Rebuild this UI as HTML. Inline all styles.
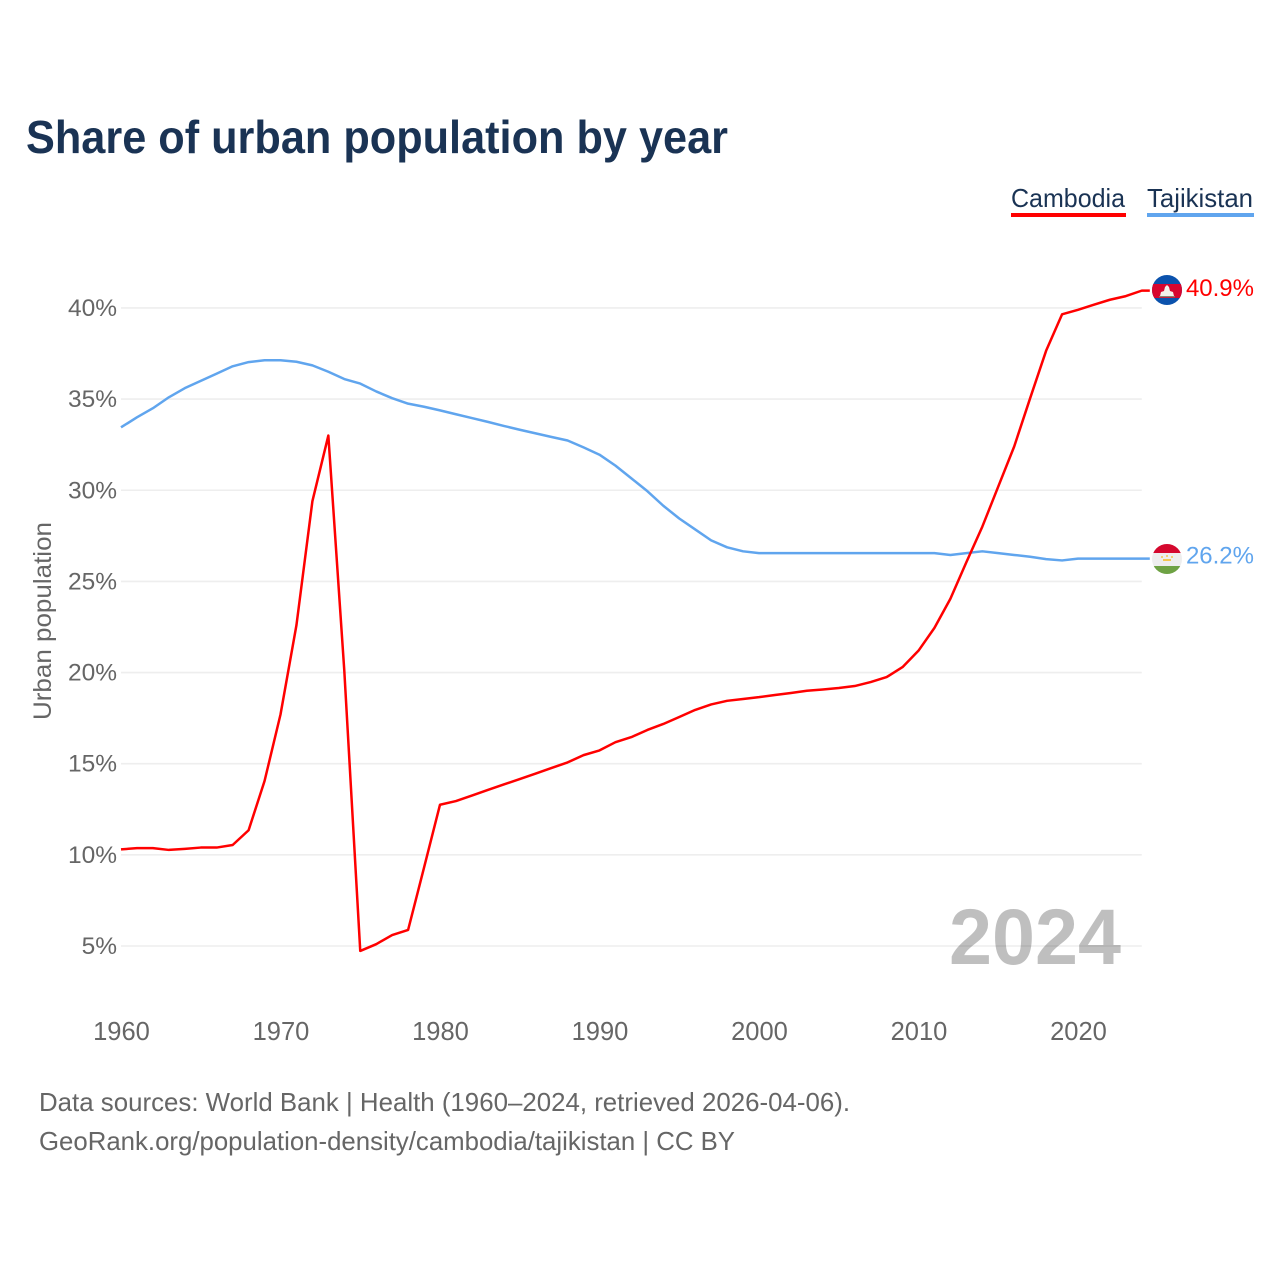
<!DOCTYPE html>
<html lang="en">
<head>
<meta charset="utf-8">
<title>Share of urban population by year</title>
<style>
html,body{margin:0;padding:0;background:#fff;width:1280px;height:1280px;overflow:hidden}
svg{display:block}
text{font-family:"Liberation Sans",sans-serif}
</style>
</head>
<body>
<svg id="chart" xmlns="http://www.w3.org/2000/svg" width="1280" height="1280" viewBox="0 0 1280 1280">
  <defs>
    <clipPath id="flag-clip-a"><circle cx="1167" cy="290" r="15"/></clipPath>
    <clipPath id="flag-clip-b"><circle cx="1167" cy="559" r="15"/></clipPath>
  </defs>
  <text x="26" y="153" font-size="46" font-weight="700" fill="#1a3354" textLength="702" lengthAdjust="spacingAndGlyphs">Share of urban population by year</text>

  <g>
    <g>
      <text x="1011" y="207" font-size="26" fill="#1a3354" textLength="114" lengthAdjust="spacingAndGlyphs">Cambodia</text>
      <rect x="1011" y="213" width="115" height="4" fill="#ff0000"/>
    </g>
    <g>
      <text x="1147" y="207" font-size="26" fill="#1a3354" textLength="106" lengthAdjust="spacingAndGlyphs">Tajikistan</text>
      <rect x="1147" y="213" width="107" height="4" fill="#60a5ee"/>
    </g>
  </g>

  <g id="grid"></g>
  <g id="y-axis"></g>
  <g id="x-axis"></g>
  <text transform="translate(51,621) rotate(-90)" text-anchor="middle" font-size="25" fill="#666666" textLength="198" lengthAdjust="spacingAndGlyphs">Urban population</text>

  <text x="1121" y="964" text-anchor="end" font-size="79" font-weight="700" fill="#000000" fill-opacity="0.25" textLength="172" lengthAdjust="spacingAndGlyphs">2024</text>

  <g id="series"></g>

  <g clip-path="url(#flag-clip-a)">
    <rect x="1152" y="275" width="30" height="30" fill="#0b52ad"/>
    <rect x="1152" y="284" width="30" height="14" fill="#d8062f"/>
    <polygon points="1160,296 1161,292 1164,291 1165,287 1167,285 1169,287 1170,291 1173,292 1174,296" fill="#f4f0ea"/>
    <rect x="1159" y="296" width="16" height="1.2" fill="#8a7f70"/>
  </g>
  <g clip-path="url(#flag-clip-b)">
    <rect x="1152" y="544" width="30" height="30" fill="#eeeeee"/>
    <rect x="1152" y="544" width="30" height="9" fill="#d5082e"/>
    <rect x="1152" y="566" width="30" height="8" fill="#6ea244"/>
    <rect x="1163" y="559" width="8" height="2" fill="#f4c64f"/>
    <circle cx="1167" cy="556" r="1" fill="#f4c64f"/>
    <circle cx="1162" cy="557" r="1" fill="#f4c64f"/>
    <circle cx="1172" cy="557" r="1" fill="#f4c64f"/>
  </g>
  <g id="value-labels"></g>

  <text x="39" y="1111" font-size="26" fill="#666666" textLength="811" lengthAdjust="spacingAndGlyphs">Data sources: World Bank | Health (1960–2024, retrieved 2026-04-06).</text>
  <text x="39" y="1150" font-size="26" fill="#666666" textLength="696" lengthAdjust="spacingAndGlyphs">GeoRank.org/population-density/cambodia/tajikistan | CC BY</text>
</svg>
<script>
const startYear = 1960;
const endYear = 2024;
const xTicks = [1960, 1970, 1980, 1990, 2000, 2010, 2020];
const yTicks = [5, 10, 15, 20, 25, 30, 35, 40];
const cambodiaValues = [
  10.3, 10.37, 10.37, 10.27, 10.33, 10.4, 10.4, 10.54, 11.35, 14.05,
  17.7, 22.6, 29.4, 33.0, 20.1, 4.73, 5.1, 5.6, 5.88, 9.3,
  12.75, 12.95, 13.25, 13.56, 13.86, 14.16, 14.46, 14.77, 15.07, 15.47,
  15.73, 16.18, 16.46, 16.85, 17.18, 17.56, 17.95, 18.25, 18.45, 18.55,
  18.65, 18.77, 18.88, 19.0, 19.07, 19.15, 19.26, 19.48, 19.75, 20.3,
  21.2, 22.45, 24.05, 26.05, 28.0, 30.2, 32.4, 35.05, 37.65, 39.65,
  39.9, 40.18, 40.45, 40.65, 40.95
];
const tajikistanValues = [
  33.45, 34.0, 34.5, 35.1, 35.6, 36.0, 36.4, 36.8, 37.03, 37.13,
  37.13, 37.05, 36.85, 36.5, 36.1, 35.85, 35.42, 35.05, 34.75, 34.58,
  34.38, 34.17, 33.96, 33.75, 33.53, 33.32, 33.12, 32.92, 32.73, 32.35,
  31.95, 31.35, 30.65, 29.95, 29.15, 28.45, 27.85, 27.25, 26.87, 26.65,
  26.55, 26.55, 26.55, 26.55, 26.55, 26.55, 26.55, 26.55, 26.55, 26.55,
  26.55, 26.55, 26.45, 26.55, 26.65, 26.55, 26.45, 26.35, 26.22, 26.15,
  26.25, 26.25, 26.25, 26.25, 26.25
];
const cambodiaLabel = "40.9%";
const tajikistanLabel = "26.2%";

const SVG_NS = "http://www.w3.org/2000/svg";
function xScale(year) { return 121 + (year - 1960) * 15.95; }
function yScale(value) { return 946 - (value - 5) * 18.23; }
function make(tag) { return document.createElementNS(SVG_NS, tag); }

const grid = document.getElementById("grid");
const yAxis = document.getElementById("y-axis");
yTicks.forEach(function (v) {
  const line = make("line");
  line.setAttribute("x1", xScale(startYear));
  line.setAttribute("x2", xScale(endYear));
  line.setAttribute("y1", yScale(v));
  line.setAttribute("y2", yScale(v));
  line.setAttribute("stroke", "#eeeeee");
  line.setAttribute("stroke-width", "1.6");
  
  
  grid.appendChild(line);
  const t = make("text");
  t.setAttribute("x", 117);
  t.setAttribute("y", yScale(v) + 8);
  t.setAttribute("text-anchor", "end");
  t.setAttribute("font-size", "24.5");
  t.setAttribute("fill", "#666666");
  t.textContent = v + "%";
  
  
  yAxis.appendChild(t);
});

const xAxis = document.getElementById("x-axis");
xTicks.forEach(function (yr) {
  const t = make("text");
  t.setAttribute("x", xScale(yr) + 0.5);
  t.setAttribute("y", 1040);
  t.setAttribute("text-anchor", "middle");
  t.setAttribute("font-size", "25.5");
  t.setAttribute("fill", "#666666");
  t.textContent = String(yr);
  
  
  xAxis.appendChild(t);
});

const seriesGroup = document.getElementById("series");
const labelGroup = document.getElementById("value-labels");
function pointsFor(values) {
  const pts = values.map(function (v, i) {
    return xScale(startYear + i).toFixed(2) + "," + yScale(v).toFixed(2);
  });
  const last = values[values.length - 1];
  pts.push((xScale(endYear) + 8).toFixed(2) + "," + yScale(last).toFixed(2));
  return pts.join(" ");
}

const tajikLine = make("polyline");
tajikLine.setAttribute("points", pointsFor(tajikistanValues));
tajikLine.setAttribute("fill", "none");
tajikLine.setAttribute("stroke", "#60a5ee");
tajikLine.setAttribute("stroke-width", "2.5");
tajikLine.setAttribute("stroke-linejoin", "round");


seriesGroup.appendChild(tajikLine);

const cambodiaLine = make("polyline");
cambodiaLine.setAttribute("points", pointsFor(cambodiaValues));
cambodiaLine.setAttribute("fill", "none");
cambodiaLine.setAttribute("stroke", "#ff0000");
cambodiaLine.setAttribute("stroke-width", "2.5");
cambodiaLine.setAttribute("stroke-linejoin", "round");


seriesGroup.appendChild(cambodiaLine);

const cambodiaValueText = make("text");
cambodiaValueText.setAttribute("x", 1254);
cambodiaValueText.setAttribute("y", yScale(cambodiaValues[64]) + 5.5);
cambodiaValueText.setAttribute("text-anchor", "end");
cambodiaValueText.setAttribute("font-size", "24");
cambodiaValueText.setAttribute("fill", "#ff0000");
cambodiaValueText.textContent = cambodiaLabel;


labelGroup.appendChild(cambodiaValueText);

const tajikValueText = make("text");
tajikValueText.setAttribute("x", 1254);
tajikValueText.setAttribute("y", yScale(tajikistanValues[64]) + 5);
tajikValueText.setAttribute("text-anchor", "end");
tajikValueText.setAttribute("font-size", "24");
tajikValueText.setAttribute("fill", "#60a5ee");
tajikValueText.textContent = tajikistanLabel;


labelGroup.appendChild(tajikValueText);
</script>
</body>
</html>
